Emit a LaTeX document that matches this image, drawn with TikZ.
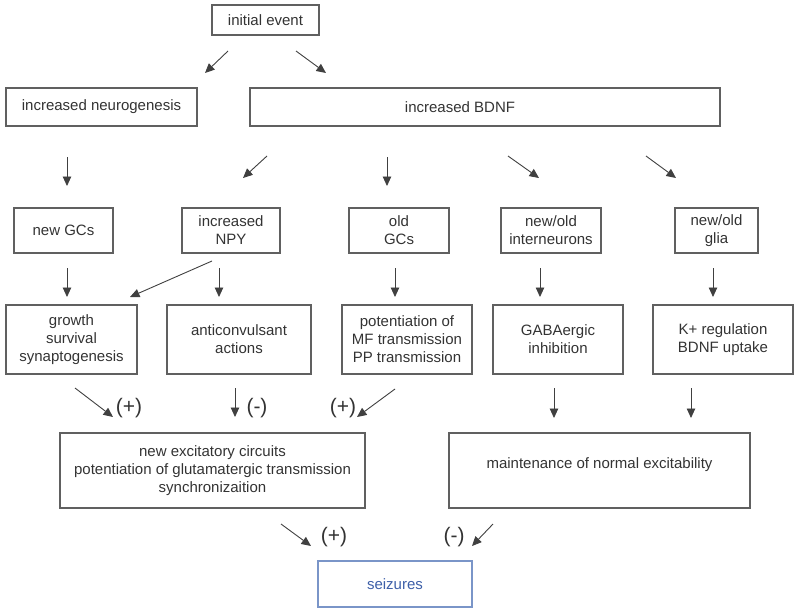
\documentclass[tikz,border=0pt]{standalone}
\usepackage{fontspec}
\setmainfont{Liberation Sans}
\usetikzlibrary{arrows.meta}
\definecolor{boxgray}{HTML}{606060}
\definecolor{textgray}{HTML}{333333}
\definecolor{arrgray}{HTML}{404040}
\definecolor{seizblue}{HTML}{7A95C8}
\definecolor{seiztext}{HTML}{3D5FA8}
\begin{document}
\begin{tikzpicture}[x=1pt,y=-1pt,
  box/.style={draw=boxgray, line width=1.1pt, inner sep=0pt, align=center,
    font=\fontsize{15}{18}\selectfont, text=textgray},
  arr/.style={draw=arrgray, line width=0.9pt, -{Triangle[length=9.5pt,width=8.5pt]}},
  sign/.style={font=\fontsize{21}{24}\selectfont, text=textgray, inner sep=0pt}]
\useasboundingbox (0,0) rectangle (800,613);
% boxes
\node[box, minimum width=107pt, minimum height=30pt] (init) at (265.5,20) {initial event};
\node[box, minimum width=191pt, minimum height=38pt] (neuro) at (101.5,107) {increased neurogenesis};
\node[box, minimum width=470pt, minimum height=38pt] (bdnf) at (485,107) {increased BDNF\hspace{50pt}};
\node[box, minimum width=99pt, minimum height=45pt] (newgc) at (63.5,230.5) {new GCs};
\node[box, minimum width=98pt, minimum height=45pt] (npy) at (231,230.5) {increased\\NPY};
\node[box, minimum width=100pt, minimum height=45pt] (oldgc) at (399,230.5) {old\\GCs};
\node[box, minimum width=100pt, minimum height=45pt] (inter) at (551,230.5) {new/old\\interneurons};
\node[box, minimum width=83pt, minimum height=45pt] (glia) at (716.5,230.5) {new/old\\glia};
\node[box, minimum width=131pt, minimum height=69pt] (growth) at (71.5,339.5) {growth\\survival\\synaptogenesis};
\node[box, minimum width=144pt, minimum height=69pt] (anti) at (239,339.5) {anticonvulsant\\actions};
\node[box, minimum width=130pt, minimum height=69pt] (pot) at (407,339.5) {potentiation of\\MF transmission\\PP transmission};
\node[box, minimum width=130pt, minimum height=69pt] (gaba) at (558,339.5) {GABAergic\\inhibition};
\node[box, minimum width=140pt, minimum height=69pt] (kreg) at (723,339.5) {K+ regulation\\BDNF uptake};
\node[box, minimum width=305pt, minimum height=75pt] (newexc) at (212.5,470.5) {new excitatory circuits\\potentiation of glutamatergic transmission\\synchronizaition};
\node[box, minimum width=301pt, minimum height=75pt] (maint) at (599.5,470.5) {maintenance of normal excitability\\[-3pt]};
\node[box, draw=seizblue, text=seiztext, minimum width=154pt, minimum height=46pt] (seiz) at (395,584) {seizures};
% arrow end points
\coordinate (a1s) at (228,51);  \coordinate (a1e) at (205,73);
\coordinate (a2s) at (296,51);  \coordinate (a2e) at (326,73);
\coordinate (a3s) at (67,157);  \coordinate (a3e) at (67,186);
\coordinate (a4s) at (267,156); \coordinate (a4e) at (243,178);
\coordinate (a5s) at (387,157); \coordinate (a5e) at (387,186);
\coordinate (a6s) at (508,156); \coordinate (a6e) at (539,178);
\coordinate (a7s) at (646,156); \coordinate (a7e) at (676,178);
\coordinate (b1s) at (67,268);  \coordinate (b1e) at (67,297);
\coordinate (b2s) at (212,261); \coordinate (b2e) at (130,297);
\coordinate (b3s) at (219,268); \coordinate (b3e) at (219,297);
\coordinate (b4s) at (395,268); \coordinate (b4e) at (395,297);
\coordinate (b5s) at (540,268); \coordinate (b5e) at (540,297);
\coordinate (b6s) at (713,268); \coordinate (b6e) at (713,297);
\coordinate (c1s) at (75,388);  \coordinate (c1e) at (113,417);
\coordinate (c2s) at (235,388); \coordinate (c2e) at (235,417);
\coordinate (c3s) at (395,389); \coordinate (c3e) at (357,417);
\coordinate (c4s) at (554,388); \coordinate (c4e) at (554,418);
\coordinate (c5s) at (691,388); \coordinate (c5e) at (691,418);
\coordinate (d1s) at (281,524); \coordinate (d1e) at (311,546);
\coordinate (d2s) at (493,524); \coordinate (d2e) at (472,546);
% arrows
\foreach \n in {a1,a2,a3,a4,a5,a6,a7,b1,b2,b3,b4,b5,b6,c1,c2,c3,c4,c5,d1,d2}
  \draw[arr] (\n s) -- (\n e);
% signs
\node[sign] (s1) at (129,408) {(+)};
\node[sign] (s2) at (257,408) {(-)};
\node[sign] (s3) at (343,408) {(+)};
\node[sign] (s4) at (334,537) {(+)};
\node[sign] (s5) at (454,537) {(-)};
\end{tikzpicture}
\end{document}
